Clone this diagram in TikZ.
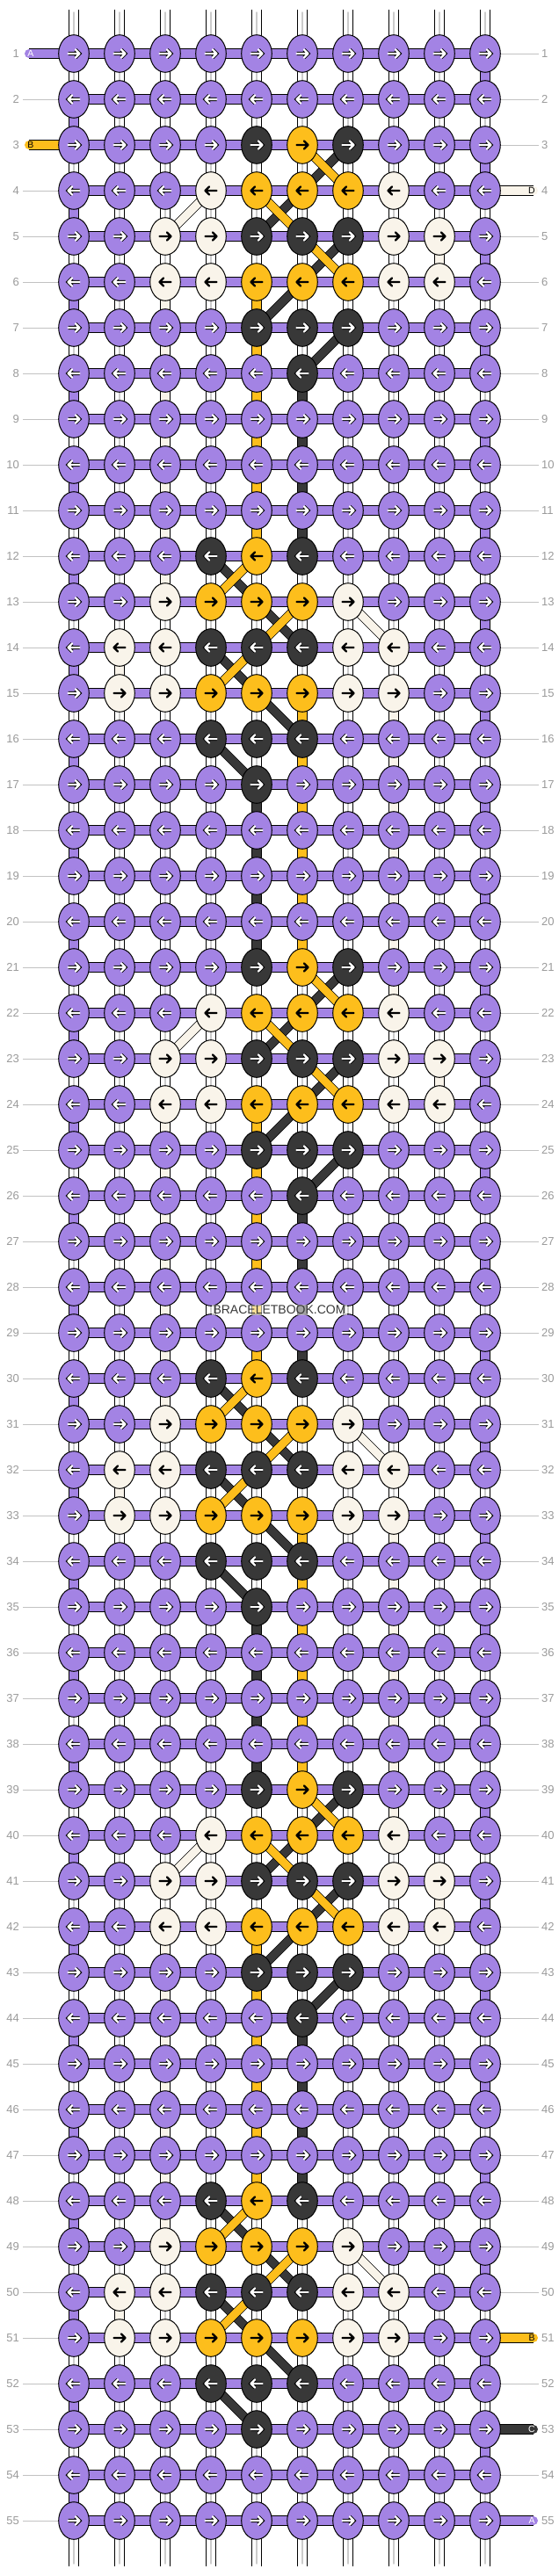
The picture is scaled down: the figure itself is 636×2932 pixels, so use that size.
\documentclass[tikz,border=0pt]{standalone}
\usepackage{fontspec}
\setmainfont{Liberation Sans}
\usetikzlibrary{shapes.geometric}
\definecolor{colP}{HTML}{A383E4}
\definecolor{colK}{HTML}{383838}
\definecolor{colY}{HTML}{FDBE1C}
\definecolor{colC}{HTML}{F9F4EA}
\definecolor{lblgray}{HTML}{9A9A9A}
\colorlet{arrP}{white}
\colorlet{arrK}{white}
\colorlet{arrY}{black}
\colorlet{arrC}{black}
\colorlet{arroP}{black}
\colorlet{arroK}{black}
\colorlet{arroY}{colY}
\colorlet{arroC}{colC}
\pgfdeclarelayer{bg}
\pgfsetlayers{bg,main}
\tikzset{
  knot/.style={ellipse,draw=black,line width=1pt,minimum width=34.6pt,minimum height=42.6pt,inner sep=0pt},
  arrowin/.style={line width=2.4pt,line cap=round,line join=round},
  wire/.style={draw=white,line width=9.6pt,line cap=round,preaction={draw=black,line width=11.6pt},
    postaction={draw=gray!40,line width=1.4pt,shorten <=3pt,shorten >=3pt}},
  seg/.style={line width=9.6pt,preaction={draw=black,line width=11.6pt}},
  diag/.style={line width=9pt,preaction={draw=black,line width=10.4pt}},
  band/.style={draw=colP,line width=10pt,preaction={draw=black,line width=12pt}},
  stub/.style={line width=10pt,line cap=round,preaction={draw=black,line width=12pt}},
  guide/.style={draw=lblgray!60,line width=1pt},
  rowlbl/.style={text=lblgray,font=\fontsize{13}{13}\selectfont,inner sep=0pt},
  stublbl/.style={font=\fontsize{10.5}{10.5}\selectfont,inner sep=0pt},
  wmark/.style={fill=white,fill opacity=0.55,text opacity=1,text=colK,font=\fontsize{14}{14}\selectfont,inner sep=1.5pt}
}
\begin{document}
\begin{tikzpicture}[x=1pt,y=-1pt]
\useasboundingbox (0,0) rectangle (636,2932);

% knots, one list per row
\foreach \r/\row in {
  1/{P,P,P,P,P,P,P,P,P,P}, 2/{P,P,P,P,P,P,P,P,P,P},
  3/{P,P,P,P,K,Y,K,P,P,P}, 4/{P,P,P,C,Y,Y,Y,C,P,P}, 5/{P,P,C,C,K,K,K,C,C,P},
  6/{P,P,C,C,Y,Y,Y,C,C,P}, 7/{P,P,P,P,K,K,K,P,P,P}, 8/{P,P,P,P,P,K,P,P,P,P},
  9/{P,P,P,P,P,P,P,P,P,P}, 10/{P,P,P,P,P,P,P,P,P,P}, 11/{P,P,P,P,P,P,P,P,P,P},
  12/{P,P,P,K,Y,K,P,P,P,P}, 13/{P,P,C,Y,Y,Y,C,P,P,P}, 14/{P,C,C,K,K,K,C,C,P,P},
  15/{P,C,C,Y,Y,Y,C,C,P,P}, 16/{P,P,P,K,K,K,P,P,P,P}, 17/{P,P,P,P,K,P,P,P,P,P},
  18/{P,P,P,P,P,P,P,P,P,P}, 19/{P,P,P,P,P,P,P,P,P,P}, 20/{P,P,P,P,P,P,P,P,P,P},
  21/{P,P,P,P,K,Y,K,P,P,P}, 22/{P,P,P,C,Y,Y,Y,C,P,P}, 23/{P,P,C,C,K,K,K,C,C,P},
  24/{P,P,C,C,Y,Y,Y,C,C,P}, 25/{P,P,P,P,K,K,K,P,P,P}, 26/{P,P,P,P,P,K,P,P,P,P},
  27/{P,P,P,P,P,P,P,P,P,P}, 28/{P,P,P,P,P,P,P,P,P,P}, 29/{P,P,P,P,P,P,P,P,P,P},
  30/{P,P,P,K,Y,K,P,P,P,P}, 31/{P,P,C,Y,Y,Y,C,P,P,P}, 32/{P,C,C,K,K,K,C,C,P,P},
  33/{P,C,C,Y,Y,Y,C,C,P,P}, 34/{P,P,P,K,K,K,P,P,P,P}, 35/{P,P,P,P,K,P,P,P,P,P},
  36/{P,P,P,P,P,P,P,P,P,P}, 37/{P,P,P,P,P,P,P,P,P,P}, 38/{P,P,P,P,P,P,P,P,P,P},
  39/{P,P,P,P,K,Y,K,P,P,P}, 40/{P,P,P,C,Y,Y,Y,C,P,P}, 41/{P,P,C,C,K,K,K,C,C,P},
  42/{P,P,C,C,Y,Y,Y,C,C,P}, 43/{P,P,P,P,K,K,K,P,P,P}, 44/{P,P,P,P,P,K,P,P,P,P},
  45/{P,P,P,P,P,P,P,P,P,P}, 46/{P,P,P,P,P,P,P,P,P,P}, 47/{P,P,P,P,P,P,P,P,P,P},
  48/{P,P,P,K,Y,K,P,P,P,P}, 49/{P,P,C,Y,Y,Y,C,P,P,P}, 50/{P,C,C,K,K,K,C,C,P,P},
  51/{P,C,C,Y,Y,Y,C,C,P,P}, 52/{P,P,P,K,K,K,P,P,P,P}, 53/{P,P,P,P,K,P,P,P,P,P},
  54/{P,P,P,P,P,P,P,P,P,P}, 55/{P,P,P,P,P,P,P,P,P,P}} {
  \pgfmathtruncatemacro\dir{ifthenelse(mod(\r,2)==1,1,-1)}
  \foreach \k [count=\c] in \row {
    \node[knot,fill=col\k] (k-\r-\c) at ({84+52*(\c-1)},{61+52*(\r-1)}) {};
    \draw[arrowin,draw=arr\k,preaction={draw=arro\k,line width=4.2pt},shift={(k-\r-\c.center)},xscale=\dir]
      (-6.5,0) -- (6.5,0) (2,-4.5) -- (6.5,0) -- (2,4.5);
  }
  \node[rowlbl,anchor=east] (ll-\r) at (22,{61+52*(\r-1)}) {\r};
  \node[rowlbl,anchor=west] (rl-\r) at (616,{61+52*(\r-1)}) {\r};
}

\node[wmark] (wm) at (318,1491) {BRACELETBOOK.COM};

\begin{pgfonlayer}{bg}
  % vertical strings
  \foreach \c in {1,...,10} {
    \coordinate (top-\c) at ({84+52*(\c-1)},11);
    \coordinate (bot-\c) at ({84+52*(\c-1)},2921);
    \draw[wire] (top-\c) -- (bot-\c);
  }
  % base string turning at the edges
  \foreach \r in {1,...,54} {
    \pgfmathtruncatemacro\rb{\r+1}
    \pgfmathtruncatemacro\ce{ifthenelse(mod(\r,2)==1,10,1)}
    \draw[seg,draw=colP] (k-\r-\ce.center) -- (k-\rb-\ce.center);
  }
  % coloured strings hanging between rows
  \foreach \s in {3,21,39}
    \foreach \t/\c/\k in {2/9/C,3/3/C,3/5/Y,4/3/C,4/5/Y,5/3/C,5/5/Y,5/6/K,6/3/C,6/5/Y,6/6/K,
                          7/3/C,7/5/Y,7/6/K,8/3/C,8/5/Y,8/6/K} {
      \pgfmathtruncatemacro\ra{\s+\t}
      \pgfmathtruncatemacro\rb{\s+\t+1}
      \draw[seg,draw=col\k] (k-\ra-\c.center) -- (k-\rb-\c.center);
    }
  \foreach \s in {12,30}
    \foreach \t/\c/\k in {0/3/C,2/2/C,3/8/C,3/6/Y,4/8/C,4/6/Y,5/8/C,5/6/Y,5/5/K,6/8/C,6/6/Y,6/5/K,
                          7/8/C,7/6/Y,7/5/K,8/8/C,8/6/Y,8/5/K} {
      \pgfmathtruncatemacro\ra{\s+\t}
      \pgfmathtruncatemacro\rb{\s+\t+1}
      \draw[seg,draw=col\k] (k-\ra-\c.center) -- (k-\rb-\c.center);
    }
  \foreach \r/\c/\k in {21/8/C,39/8/C,48/3/C,50/2/C}
    {\pgfmathtruncatemacro\rb{\r+1}
     \draw[seg,draw=col\k] (k-\r-\c.center) -- (k-\rb-\c.center);}
  % crossings
  \foreach \s in {3,21,39}
    \foreach \t/\ca/\cb/\k in {0/7/6/K,1/6/5/K,2/7/6/K,3/6/5/K,4/7/6/K,1/4/3/C,0/6/7/Y,1/5/6/Y,2/6/7/Y} {
      \pgfmathtruncatemacro\ra{\s+\t}
      \pgfmathtruncatemacro\rb{\s+\t+1}
      \draw[diag,draw=col\k] (k-\ra-\ca.center) -- (k-\rb-\cb.center);
    }
  \foreach \s in {12,30,48}
    \foreach \t/\ca/\cb/\k in {0/4/5/K,1/5/6/K,2/4/5/K,3/5/6/K,4/4/5/K,1/7/8/C,0/5/4/Y,1/6/5/Y,2/5/4/Y} {
      \pgfmathtruncatemacro\ra{\s+\t}
      \pgfmathtruncatemacro\rb{\s+\t+1}
      \draw[diag,draw=col\k] (k-\ra-\ca.center) -- (k-\rb-\cb.center);
    }
  % rows
  \foreach \r in {1,...,55}
    \draw[band] (k-\r-1.center) -- (k-\r-10.center);
  % guide lines to the row numbers
  \foreach \r in {2,4,5,...,55} {
    \coordinate (gl-\r) at (26,{61+52*(\r-1)});
    \draw[guide] (gl-\r) -- (k-\r-1.center);
  }
  \foreach \r in {1,2,3,5,6,...,50,52,54} {
    \coordinate (gr-\r) at (613,{61+52*(\r-1)});
    \draw[guide] (k-\r-10.center) -- (gr-\r);
  }
  % loose ends
  \coordinate (eA) at (33,61);
  \coordinate (eB) at (33,165);
  \coordinate (eD) at (607,217);
  \coordinate (eB2) at (607,2661);
  \coordinate (eC) at (607,2765);
  \coordinate (eA2) at (607,2869);
  \draw[stub,draw=colP] (eA) -- (k-1-1.center);
  \draw[stub,draw=colY] (eB) -- (k-3-1.center);
  \draw[stub,draw=colC] (k-4-10.center) -- (eD);
  \draw[stub,draw=colY] (k-51-10.center) -- (eB2);
  \draw[stub,draw=colK] (k-53-10.center) -- (eC);
  \draw[stub,draw=colP] (k-55-10.center) -- (eA2);
\end{pgfonlayer}

\node[stublbl,text=white] (tA) at (35,61) {A};
\node[stublbl,text=black] (tB) at (35,165) {B};
\node[stublbl,text=black] (tD) at (605,217) {D};
\node[stublbl,text=black] (tB2) at (605,2661) {B};
\node[stublbl,text=white] (tC) at (605,2765) {C};
\node[stublbl,text=white] (tA2) at (605,2869) {A};
\end{tikzpicture}
\end{document}
